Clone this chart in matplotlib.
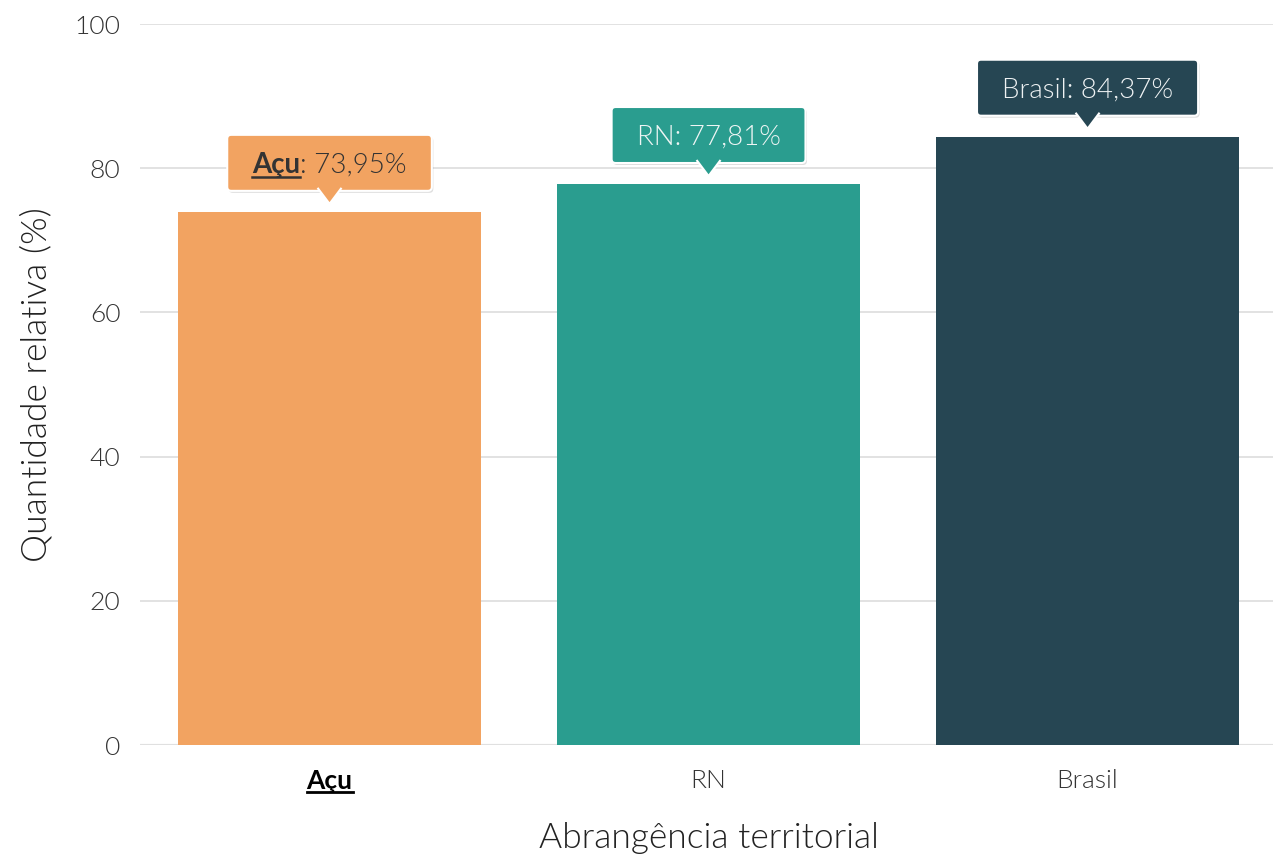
import matplotlib
matplotlib.use('Agg')
import matplotlib.pyplot as plt
from matplotlib.patches import FancyBboxPatch, Polygon
from matplotlib.lines import Line2D
from matplotlib.transforms import IdentityTransform

categorias = ['Açu', 'RN', 'Brasil']
valores = [73.95, 77.81, 84.37]
rotulos = ['73,95%', '77,81%', '84,37%']
cores = ['#F2A361', '#2A9D8F', '#264653']
cores_texto = ['#333333', '#EEF5F4', '#EEF2F3']
yticks = [0, 20, 40, 60, 80, 100]

plt.rcParams['font.family'] = ['Lato', 'DejaVu Sans']
plt.rcParams['font.weight'] = 300
plt.rcParams['axes.labelweight'] = 300

fig = plt.figure(figsize=(12.73, 8.58), dpi=100)
ax = fig.add_axes([0.110, 0.1317, 0.8932, 0.8403])

x = list(range(len(categorias)))
ax.bar(x, valores, width=0.8, color=cores, zorder=2)
ax.set_xlim(-0.5, 2.5)
ax.set_ylim(0, 100)
ax.set_yticks(yticks)
ax.set_xticks(x)
ax.set_xticklabels(categorias)
ax.grid(axis='y', color='#e2e2e2', lw=1.4, zorder=0)
ax.axhline(0, color='#bdbdbd', lw=1.5, zorder=1)
for s in ax.spines.values():
    s.set_visible(False)
ax.tick_params(axis='y', length=0, labelsize=19, labelcolor='#333333', pad=14)
ax.tick_params(axis='x', length=0, labelsize=19, labelcolor='#333333', pad=17)
ax.set_ylabel('Quantidade relativa (%)', fontsize=25.5, color='#222222', labelpad=16)
ax.set_xlabel('Abrangência territorial', fontsize=25.5, color='#222222', labelpad=21)

lbl0 = ax.get_xticklabels()[0]
lbl0.set_fontweight('bold')
lbl0.set_color('black')

fig.canvas.draw()
r = fig.canvas.get_renderer()
ident = IdentityTransform()

# sublinhado no rótulo do eixo x
bb = lbl0.get_window_extent(r)
fig.add_artist(Line2D([bb.x0, bb.x1], [bb.y0 + 1, bb.y0 + 1], color='black', lw=2, transform=ident))

# caixas de destaque
for i in x:
    px, py = ax.transData.transform((i, valores[i]))
    if i == 0:
        partes = [('Açu', 'bold'), (': ' + rotulos[i], 300)]
    else:
        partes = [(categorias[i] + ': ' + rotulos[i], 300)]
    textos = []
    for s, w in partes:
        t = fig.text(0, 0, s, fontsize=20, fontweight=w, color=cores_texto[i],
                     transform=ident, ha='left', va='baseline', zorder=5)
        textos.append(t)
    larg = [t.get_window_extent(r).width for t in textos]
    total = sum(larg)
    x0 = px - total / 2
    cx = x0
    yb = py + 21 + 28 - 10
    for t, w in zip(textos, larg):
        t.set_position((cx, yb))
        cx += w
    if i == 0:
        fig.add_artist(Line2D([x0, x0 + larg[0]], [yb - 4, yb - 4], color=cores_texto[i], lw=1.8,
                              transform=ident, zorder=6))
    bw = total + 50
    bh = 56
    bx = px - bw / 2
    by = py + 21
    sombra = FancyBboxPatch((bx + 1.5, by - 2), bw, bh, boxstyle='round,pad=0,rounding_size=4',
                            fc='black', ec='none', alpha=0.13, transform=ident, zorder=1)
    caixa = FancyBboxPatch((bx, by), bw, bh, boxstyle='round,pad=0,rounding_size=4',
                           fc=cores[i], ec='white', lw=1.5, transform=ident, zorder=2)
    seta = Polygon([(px - 12, by + 3), (px, by - 13), (px + 12, by + 3)], closed=False,
                   fc=cores[i], ec='white', lw=1.5, transform=ident, zorder=3)
    fig.add_artist(sombra)
    fig.add_artist(caixa)
    fig.add_artist(seta)

fig.savefig('out.png', dpi=100)
